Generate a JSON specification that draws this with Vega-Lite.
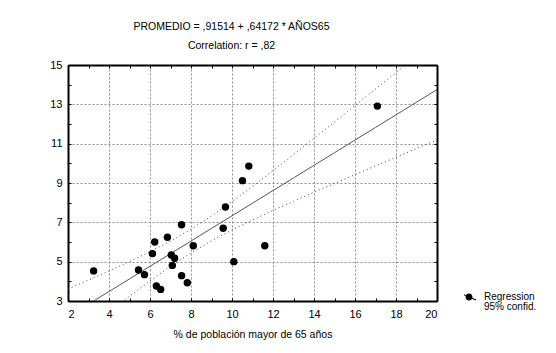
{
  "$schema": "https://vega.github.io/schema/vega-lite/v6.json",
  "autosize": "none",
  "width": 369,
  "height": 236,
  "padding": {"left": 68, "top": 65, "right": 119, "bottom": 52},
  "background": "white",
  "config": {
    "view": {"stroke": null},
    "font": "Liberation Sans",
    "axis": {"labelFont": "Liberation Sans", "labelFontSize": 11, "labelColor": "black", "titleFont": "Liberation Sans", "titleFontWeight": "normal", "titleColor": "black", "titleFontSize": 10.5}
  },
  "title": {
    "text": "PROMEDIO = ,91514 + ,64172 * AÑOS65",
    "subtitle": "Correlation: r = ,82",
    "font": "Liberation Sans",
    "subtitleFont": "Liberation Sans",
    "fontSize": 10.5,
    "subtitleFontSize": 10.5,
    "fontWeight": "normal",
    "color": "black",
    "subtitleColor": "black",
    "subtitlePadding": 8,
    "offset": 8,
    "anchor": "middle",
    "dx": -21
  },
  "datasets": {
    "pts": [
      {"x": 3.25, "y": 4.53, "series": "Regression"},
      {"x": 5.44, "y": 4.58, "series": "Regression"},
      {"x": 5.73, "y": 4.34, "series": "Regression"},
      {"x": 6.31, "y": 3.76, "series": "Regression"},
      {"x": 6.52, "y": 3.59, "series": "Regression"},
      {"x": 6.12, "y": 5.41, "series": "Regression"},
      {"x": 6.23, "y": 6.0, "series": "Regression"},
      {"x": 6.85, "y": 6.24, "series": "Regression"},
      {"x": 7.04, "y": 5.34, "series": "Regression"},
      {"x": 7.2, "y": 5.17, "series": "Regression"},
      {"x": 7.09, "y": 4.81, "series": "Regression"},
      {"x": 7.54, "y": 6.88, "series": "Regression"},
      {"x": 7.54, "y": 4.29, "series": "Regression"},
      {"x": 7.82, "y": 3.93, "series": "Regression"},
      {"x": 8.11, "y": 5.81, "series": "Regression"},
      {"x": 9.57, "y": 6.7, "series": "Regression"},
      {"x": 9.68, "y": 7.78, "series": "Regression"},
      {"x": 10.09, "y": 5.0, "series": "Regression"},
      {"x": 10.51, "y": 9.12, "series": "Regression"},
      {"x": 10.82, "y": 9.86, "series": "Regression"},
      {"x": 11.6, "y": 5.81, "series": "Regression"},
      {"x": 17.09, "y": 12.91, "series": "Regression"}
    ],
    "band": [
      {"x": 2, "fit": 2.198, "upper": 3.608, "lower": 0.788},
      {"x": 3, "fit": 2.840, "upper": 4.064, "lower": 1.616},
      {"x": 4, "fit": 3.482, "upper": 4.528, "lower": 2.436},
      {"x": 5, "fit": 4.124, "upper": 5.007, "lower": 3.241},
      {"x": 6, "fit": 4.765, "upper": 5.508, "lower": 4.022},
      {"x": 7, "fit": 5.407, "upper": 6.049, "lower": 4.765},
      {"x": 8, "fit": 6.049, "upper": 6.648, "lower": 5.450},
      {"x": 9, "fit": 6.691, "upper": 7.319, "lower": 6.063},
      {"x": 10, "fit": 7.332, "upper": 8.051, "lower": 6.613},
      {"x": 11, "fit": 7.974, "upper": 8.827, "lower": 7.121},
      {"x": 12, "fit": 8.616, "upper": 9.628, "lower": 7.604},
      {"x": 13, "fit": 9.257, "upper": 10.444, "lower": 8.070},
      {"x": 14, "fit": 9.899, "upper": 11.271, "lower": 8.527},
      {"x": 15, "fit": 10.541, "upper": 12.104, "lower": 8.978},
      {"x": 16, "fit": 11.183, "upper": 12.941, "lower": 9.425},
      {"x": 17, "fit": 11.824, "upper": 13.780, "lower": 9.868},
      {"x": 18, "fit": 12.466, "upper": 14.622, "lower": 10.310},
      {"x": 19, "fit": 13.108, "upper": 15.465, "lower": 10.751},
      {"x": 20, "fit": 13.750, "upper": 16.310, "lower": 11.190}
    ]
  },
  "resolve": {"axis": {"x": "independent", "y": "independent"}},
  "layer": [
    {
      "data": {"name": "band"},
      "mark": {"type": "line", "clip": true, "color": "#444", "strokeWidth": 1, "strokeDash": [1, 3]},
      "encoding": {
        "x": {"field": "x", "type": "quantitative", "scale": {"domain": [2, 20], "nice": false, "zero": false},
          "axis": {"orient": "bottom", "values": [2, 4, 6, 8, 10, 12, 14, 16, 18, 20], "ticks": false, "domain": false, "labelPadding": 7, "title": "% de población mayor de 65 años", "titlePadding": 10, "grid": true, "gridColor": "#8c8c8c", "gridDash": [2, 2], "gridWidth": 1}},
        "y": {"field": "upper", "type": "quantitative", "scale": {"domain": [3, 15], "nice": false, "zero": false},
          "axis": {"orient": "left", "values": [3, 5, 7, 9, 11, 13, 15], "ticks": false, "domain": false, "labelPadding": 6, "title": null, "grid": true, "gridColor": "#8c8c8c", "gridDash": [2, 2], "gridWidth": 1}}
      }
    },
    {
      "data": {"name": "band"},
      "mark": {"type": "line", "clip": true, "color": "#444", "strokeWidth": 1, "strokeDash": [1, 3]},
      "encoding": {
        "x": {"field": "x", "type": "quantitative",
          "axis": {"orient": "top", "values": [2, 3, 4, 5, 6, 7, 8, 9, 10, 11, 12, 13, 14, 15, 16, 17, 18, 19, 20], "labels": false, "domain": true, "domainColor": "black", "domainWidth": 2, "grid": false, "ticks": true, "tickSize": -3, "tickColor": "black", "title": null}},
        "y": {"field": "lower", "type": "quantitative",
          "axis": {"orient": "right", "values": [3, 4, 5, 6, 7, 8, 9, 10, 11, 12, 13, 14, 15], "labels": false, "domain": true, "domainColor": "black", "domainWidth": 2, "grid": false, "ticks": true, "tickSize": -3, "tickColor": "black", "title": null}}
      }
    },
    {
      "data": {"name": "band"},
      "mark": {"type": "line", "clip": true, "color": "#555", "strokeWidth": 1},
      "encoding": {
        "x": {"field": "x", "type": "quantitative",
          "axis": {"orient": "bottom", "values": [2, 3, 4, 5, 6, 7, 8, 9, 10, 11, 12, 13, 14, 15, 16, 17, 18, 19, 20], "labels": false, "domain": true, "domainColor": "black", "domainWidth": 2, "grid": false, "ticks": true, "tickSize": -3, "tickColor": "black", "title": null}},
        "y": {"field": "fit", "type": "quantitative",
          "axis": {"orient": "left", "values": [3, 4, 5, 6, 7, 8, 9, 10, 11, 12, 13, 14, 15], "labels": false, "domain": true, "domainColor": "black", "domainWidth": 2, "grid": false, "ticks": true, "tickSize": -3, "tickColor": "black", "title": null}}
      }
    },
    {
      "data": {"name": "pts"},
      "mark": {"type": "point", "filled": true, "opacity": 1, "size": 55},
      "encoding": {
        "x": {"field": "x", "type": "quantitative", "axis": null},
        "y": {"field": "y", "type": "quantitative", "axis": null},
        "color": {"field": "series", "type": "nominal",
          "scale": {"domain": ["Regression", "95% confid."], "range": ["black", "white"]},
          "legend": {"orient": "none", "legendX": 396, "legendY": 227, "title": null, "symbolSize": 100, "clipHeight": 10, "labelFontSize": 10, "labelFont": "Liberation Sans", "labelColor": "black", "rowPadding": 0, "labelOffset": 10, "symbolStrokeWidth": 0, "symbolOpacity": 1,
            "symbolType": "M-1.94,-0.76L1.36,0.69L1.44,0.51L-1.86,-0.94ZM-0.7,0A0.7,0.7 0 1,0 0.7,0A0.7,0.7 0 1,0 -0.7,0Z"}
        }
      }
    }
  ]
}
